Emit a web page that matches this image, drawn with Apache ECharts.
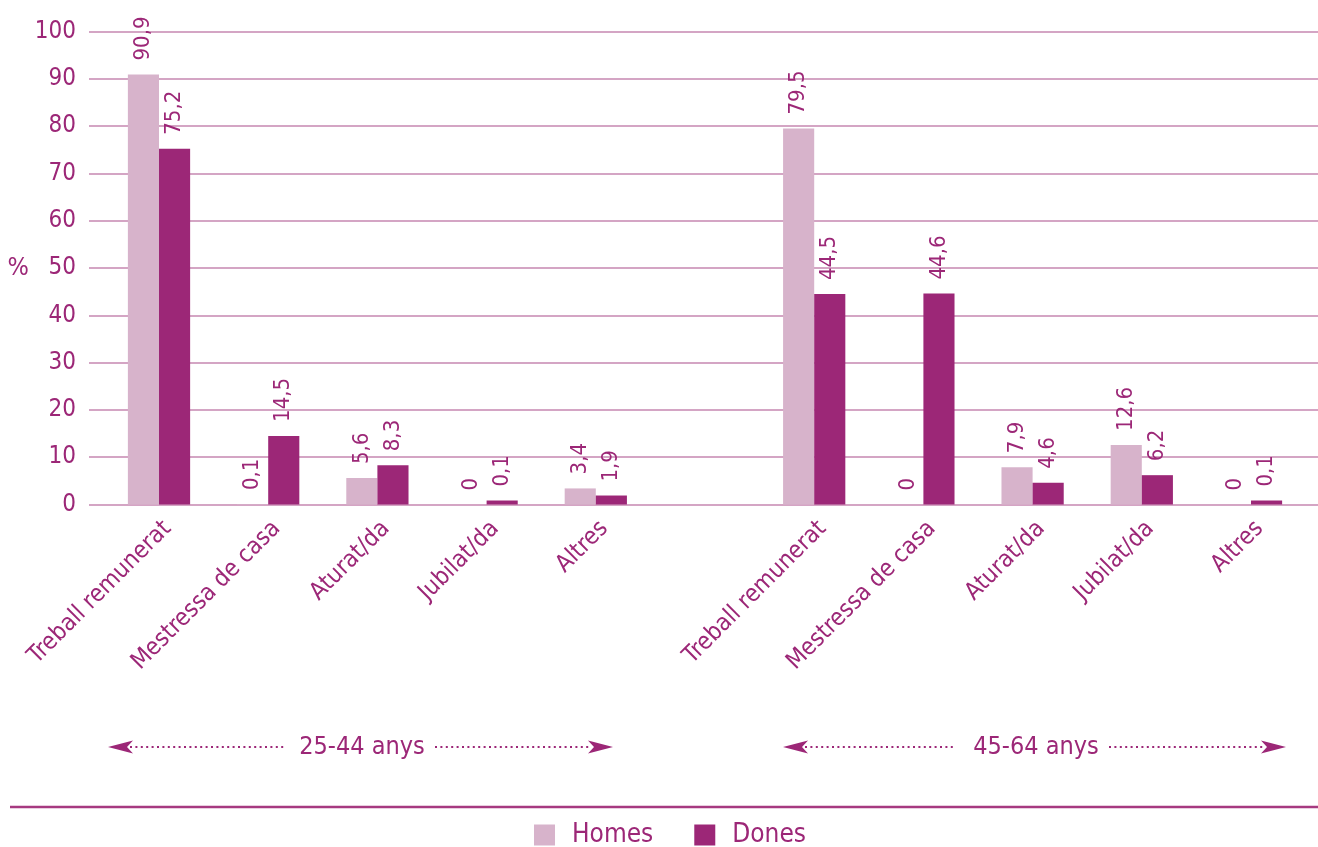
<!DOCTYPE html>
<html>
<head>
<meta charset="utf-8">
<script src="https://cdn.jsdelivr.net/npm/echarts@6/dist/echarts.min.js"></script>
<style>
html,body{margin:0;padding:0;background:#fff;}
#chart{width:1318px;height:847px;}
</style>
</head>
<body>
<div id="chart"></div>
<script>
// ---- data ----
const categories = ['Treball remunerat','Mestressa de casa','Aturat/da','Jubilat/da','Altres','',
                    'Treball remunerat','Mestressa de casa','Aturat/da','Jubilat/da','Altres'];
const homes = [90.9, 0.1, 5.6, 0, 3.4, '-', 79.5, 0, 7.9, 12.6, 0];
const dones = [75.2, 14.5, 8.3, 0.1, 1.9, '-', 44.5, 44.6, 4.6, 6.2, 0.1];
const seriesNames = ['Homes', 'Dones'];
const groupLabels = ['25-44 anys', '45-64 anys'];

// ---- style ----
const FONT = "'Liberation Sans Narrow', 'DejaVu Sans Condensed', sans-serif";
const TXT = '#9c2777';
const C_HOMES = '#d7b3cb';
const C_DONES = '#9c2777';
const GRIDC = '#d4a5c4';

const chart = echarts.init(document.getElementById('chart'), null, {renderer: 'canvas'});

const fmt = p => String(p.value).replace('.', ',');
const barLabel = {
  show: true, position: 'top', rotate: 90, align: 'left', verticalAlign: 'middle',
  distance: 14, color: TXT, fontFamily: FONT, fontSize: 22, formatter: fmt
};

function arrowPoly(tipX, y, dir) {
  const L = 25, H = 6.5, N = 19;
  return [[tipX, y], [tipX - dir * L, y - H], [tipX - dir * N, y], [tipX - dir * L, y + H]];
}
function groupAnnot(x0, x1, dotL1, textX, dotR0, label) {
  const y = 747;
  return [
    {type: 'polygon', shape: {points: arrowPoly(x0, y, -1)}, style: {fill: TXT}},
    {type: 'polygon', shape: {points: arrowPoly(x1, y, 1)}, style: {fill: TXT}},
    {type: 'line', shape: {x1: x0 + 22, y1: y, x2: dotL1, y2: y},
     style: {stroke: TXT, lineWidth: 2.2, lineDash: [2, 3.4]}},
    {type: 'line', shape: {x1: dotR0, y1: y, x2: x1 - 22, y2: y},
     style: {stroke: TXT, lineWidth: 2.2, lineDash: [2, 3.4]}},
    {type: 'text', x: textX, y: y, style: {text: label, fill: TXT, font: '25px ' + FONT,
      textAlign: 'center', textVerticalAlign: 'middle'}}
  ];
}

const option = {
  animation: false,
  backgroundColor: '#fff',
  textStyle: {fontFamily: FONT},
  grid: [
    {left: 89, right: 0, top: 31.5, bottom: 342.5},
    {left: 104.4, right: 12.4, top: 31.5, bottom: 342.5}
  ],
  xAxis: [
    {gridIndex: 0, type: 'value', show: false, min: 0, max: 1},
    {gridIndex: 1, type: 'category', data: categories,
     axisLine: {show: false}, axisTick: {show: false},
     axisLabel: {interval: 0, rotate: 45, color: TXT, fontFamily: FONT, fontSize: 24,
                 margin: 12, verticalAlign: 'top'}}
  ],
  yAxis: [
    {gridIndex: 0, type: 'value', min: 0, max: 100, interval: 10,
     name: '%', nameLocation: 'middle', nameRotate: 0, nameGap: 57,
     nameTextStyle: {color: TXT, fontFamily: FONT, fontSize: 25},
     axisLine: {show: false}, axisTick: {show: false},
     axisLabel: {color: TXT, fontFamily: FONT, fontSize: 24, margin: 13},
     splitLine: {show: true, lineStyle: {color: GRIDC, width: 2.2}}},
    {gridIndex: 1, type: 'value', min: 0, max: 100, interval: 10, show: false,
     splitLine: {show: false}}
  ],
  legend: {
    top: 817, left: 529, itemWidth: 21, itemHeight: 21, itemGap: 41, icon: 'rect',
    data: seriesNames,
    textStyle: {color: TXT, fontFamily: FONT, fontSize: 26, padding: [0, 0, 0, 12]}
  },
  series: [
    {name: seriesNames[0], type: 'bar', xAxisIndex: 1, yAxisIndex: 1, data: homes,
     itemStyle: {color: C_HOMES}, barGap: '0%', barCategoryGap: '43%', label: barLabel},
    {name: seriesNames[1], type: 'bar', xAxisIndex: 1, yAxisIndex: 1, data: dones,
     itemStyle: {color: C_DONES}, barGap: '0%', barCategoryGap: '43%', barMinHeight: 4, label: barLabel}
  ],
  graphic: [
    ...groupAnnot(108, 613, 285, 362, 435, groupLabels[0]),
    ...groupAnnot(783, 1286, 954, 1036, 1109, groupLabels[1]),
    {type: 'line', shape: {x1: 10, y1: 807, x2: 1318, y2: 807},
     style: {stroke: '#a63a80', lineWidth: 2.5}}
  ]
};
chart.setOption(option);
</script>
</body>
</html>
